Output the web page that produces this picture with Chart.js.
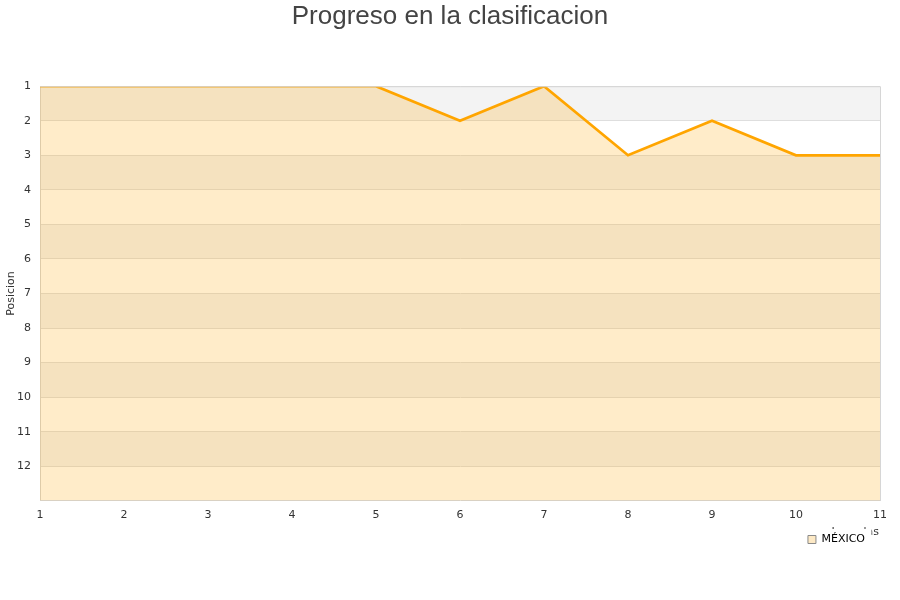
<!DOCTYPE html>
<html>
<head>
<meta charset="utf-8">
<script src="https://cdn.jsdelivr.net/npm/chart.js@4/dist/chart.umd.min.js"></script>
<style>
html,body{margin:0;padding:0;background:#fff;}
#wrap{width:900px;height:600px;}
</style>
</head>
<body>
<div id="wrap"><canvas id="c" width="900" height="600"></canvas></div>
<script>
const jornadas = ['1','2','3','4','5','6','7','8','9','10','11'];
const posicionMexico = [1,1,1,1,1,2,1,3,2,3,3];
const yTicks = [1,2,3,4,5,6,7,8,9,10,11,12];
const yMin = 1, yMax = 13;
const chartTitle = 'Progreso en la clasificacion';
const seriesName = 'MÉXICO';
const xTitle = 'Jornadas';
const yTitle = 'Posicion';

const bandPlugin = {
  id: 'bands',
  beforeDraw(chart) {
    const {ctx, chartArea} = chart;
    const y = chart.scales.y;
    ctx.save();
    for (let v = yMin; v < yMax; v++) {
      const p1 = y.getPixelForValue(v);
      const p2 = y.getPixelForValue(v + 1);
      ctx.fillStyle = (v % 2 === 1) ? '#f3f3f3' : '#ffffff';
      ctx.fillRect(chartArea.left, Math.min(p1,p2), chartArea.right - chartArea.left, Math.abs(p2 - p1));
    }
    ctx.restore();
  }
};

const framePlugin = {
  id: 'frame',
  afterDatasetsDraw(chart) {
    const {ctx, chartArea} = chart;
    ctx.save();
    ctx.strokeStyle = '#d6d6d6';
    ctx.lineWidth = 1;
    ctx.beginPath();
    ctx.moveTo(chartArea.left, chartArea.top + 0.5);
    ctx.lineTo(chartArea.right + 0.5, chartArea.top + 0.5);
    ctx.lineTo(chartArea.right + 0.5, chartArea.bottom);
    ctx.stroke();
    ctx.restore();
  },
  afterDraw(chart) {
    const {ctx, chartArea} = chart;
    const xs = chart.scales.x;
    ctx.save();
    ctx.font = '11px "DejaVu Sans"';
    ctx.fillStyle = '#333';
    ctx.textAlign = 'right';
    ctx.textBaseline = 'middle';
    ctx.fillText(xTitle, xs.right - 1, chartArea.bottom + 31);
    const hb = chart.legend.legendHitBoxes[0];
    if (hb) {
      ctx.fillStyle = '#ffffff';
      ctx.fillRect(hb.left - 10, hb.top - 5, hb.width + 16.5, hb.height + 12);
    }
    ctx.restore();
    chart.legend.draw();
  }
};

new Chart(document.getElementById('c'), {
  type: 'line',
  data: {
    labels: jornadas,
    datasets: [{
      label: seriesName,
      data: posicionMexico,
      borderColor: '#ffa500',
      backgroundColor: 'rgba(255,165,0,0.21)',
      borderWidth: 2.7,
      pointRadius: 0,
      tension: 0,
      fill: {value: yMax}
    }]
  },
  options: {
    responsive: false,
    animation: false,
    layout: {padding: {left: 0, right: 0, top: 0, bottom: 45}},
    plugins: {
      title: {
        display: true,
        text: chartTitle,
        color: '#444',
        font: {family: 'Liberation Sans', size: 26, weight: 'normal'},
        padding: {top: 1, bottom: 54}
      },
      legend: {
        position: 'bottom',
        align: 'end',
        fullSize: false,
        labels: {
          color: '#000',
          font: {family: 'DejaVu Sans', size: 11},
          boxWidth: 8,
          boxHeight: 8,
          padding: 15,
          generateLabels(chart) {
            return chart.data.datasets.map((d, i) => ({
              text: d.label,
              fillStyle: '#fde9c5',
              strokeStyle: '#8a8a8a',
              lineWidth: 1,
              hidden: false,
              datasetIndex: i,
              fontColor: '#000'
            }));
          }
        }
      },
      tooltip: {enabled: false}
    },
    scales: {
      x: {
        type: 'category',
        offset: false,
        afterFit(scale) { scale.height = scale.height - 11; },
        grid: {display: false, drawTicks: false},
        border: {display: true, color: '#d6d6d6', width: 1},
        ticks: {color: '#333', font: {family: 'DejaVu Sans', size: 11}, padding: 8, maxRotation: 0}
      },
      y: {
        reverse: true,
        min: yMin,
        max: yMax,
        afterBuildTicks(scale) { scale.ticks = yTicks.map(v => ({value: v})); },
        afterFit(scale) { scale.width = 40; },
        grid: {color: '#dedede', drawTicks: false, lineWidth: 1},
        border: {display: true, color: '#d6d6d6', width: 1},
        ticks: {color: '#333', font: {family: 'DejaVu Sans', size: 11}, padding: 9, stepSize: 1},
        title: {display: true, text: yTitle, color: '#333', font: {family: 'DejaVu Sans', size: 11}, padding: {top: 5, bottom: 4}}
      },
      yR: {
        position: 'right',
        display: true,
        min: yMin,
        max: yMax,
        afterFit(scale) { scale.width = 20; },
        grid: {display: false, drawTicks: false},
        border: {display: false},
        ticks: {display: false}
      }
    }
  },
  plugins: [bandPlugin, framePlugin]
});
</script>
</body>
</html>
